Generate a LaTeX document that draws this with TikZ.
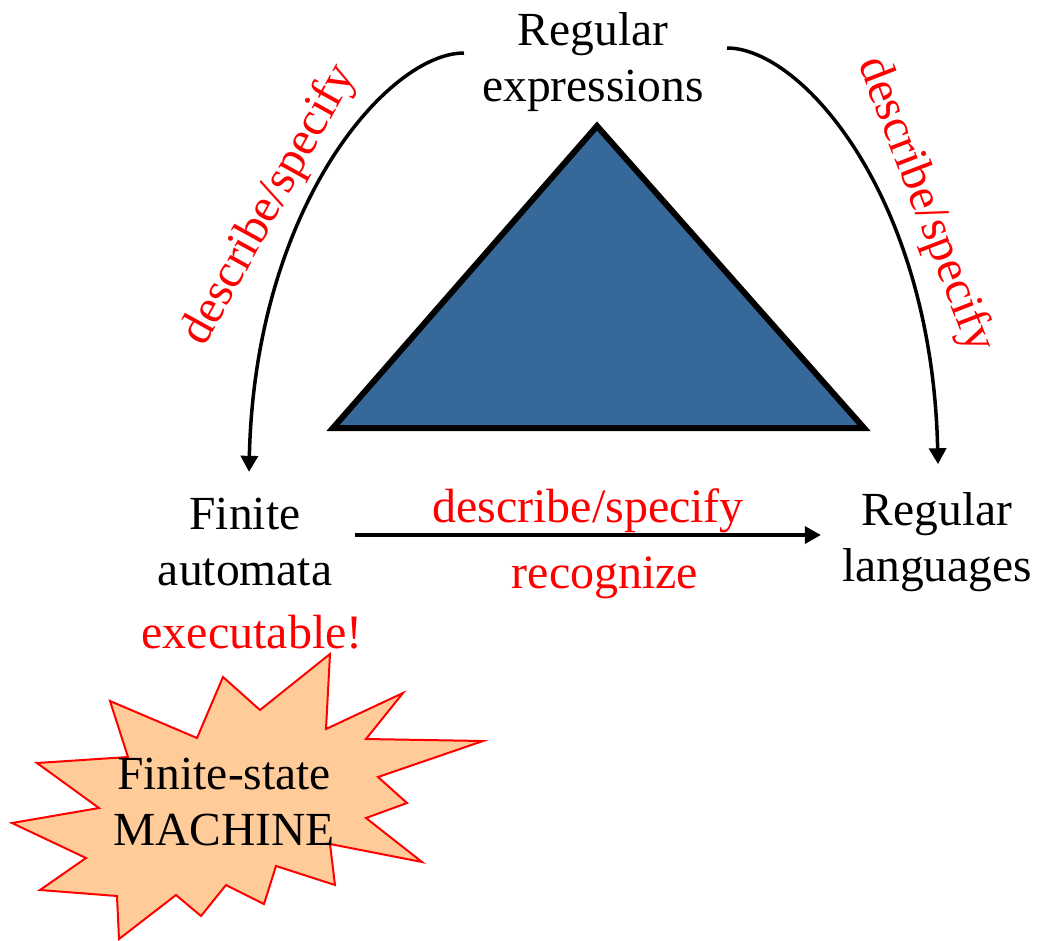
\documentclass[tikz,border=0pt]{standalone}
\usepackage{fontspec}
\setmainfont{Liberation Serif}
\usetikzlibrary{arrows.meta}
\definecolor{triblue}{RGB}{54,104,154}
\definecolor{burstfill}{RGB}{255,204,153}
\tikzset{
  term/.style={align=center, inner sep=0pt, font=\rmfamily\fontsize{47.5}{56}\selectfont},
  redlabel/.style={inner sep=0pt, text=red, font=\rmfamily\fontsize{48}{56}\selectfont},
  link/.style={line width=3.5pt, -{Triangle[length=16pt,width=17pt]}},
}
\begin{document}
\begin{tikzpicture}[x=1pt,y=-1pt]
\useasboundingbox (0,0) rectangle (1039,940);

% central triangle
\draw[line width=6pt, fill=triblue, line join=miter] (333,428) -- (597,126) -- (864,428) -- cycle;

% the three corner terms
\node[term] (re) at (593,62) {Regular\\expressions};
\node[term] (fa) at (245,542) {Finite\\automata};
\node[term] (rl) at (937,542) {Regular\\languages};

% starburst
\draw[red, line width=2pt, fill=burstfill, line join=miter]
  (330,654) -- (326,729) -- (403,693) -- (366,739) -- (483,741) -- (378,777)
  -- (407,803) -- (366,818) -- (422,862) -- (330,844) -- (335,885) -- (276,866)
  -- (264,904) -- (226,885) -- (201,916) -- (176,895) -- (119,939) -- (117,896)
  -- (40,890) -- (86,858) -- (12,823) -- (99,808) -- (37,763) -- (128,757)
  -- (110,701) -- (197,738) -- (223,677) -- (260,710) -- cycle;
\node[term] (fsm) at (224,802) {Finite-state\\MACHINE};

% connectors
\draw[link] ([xshift=-18pt,yshift=9pt]re.west)
  .. controls +(-75,0) and +(6,-267) .. ([xshift=4pt,yshift=26pt]fa.north);
\draw[link] ([xshift=23pt,yshift=14pt]re.east)
  .. controls +(75,0) and +(-6,-267) .. ([xshift=1pt,yshift=28pt]rl.north);
\draw[link] ([xshift=23pt,yshift=7pt]fa.east) -- ([xshift=-21pt,yshift=7pt]rl.west);

% labels
\node[redlabel, rotate=61] (lspec) at (270,205) {describe/specify};
\node[redlabel, rotate=-69] (rspec) at (925,205) {describe/specify};
\node[redlabel, anchor=base] (mspec) at (588,522) {describe/specify};
\node[redlabel, anchor=base] (recog) at (605,588) {recognize};
\node[redlabel, anchor=base] (exec) at (252,648) {executable!};
\end{tikzpicture}
\end{document}
